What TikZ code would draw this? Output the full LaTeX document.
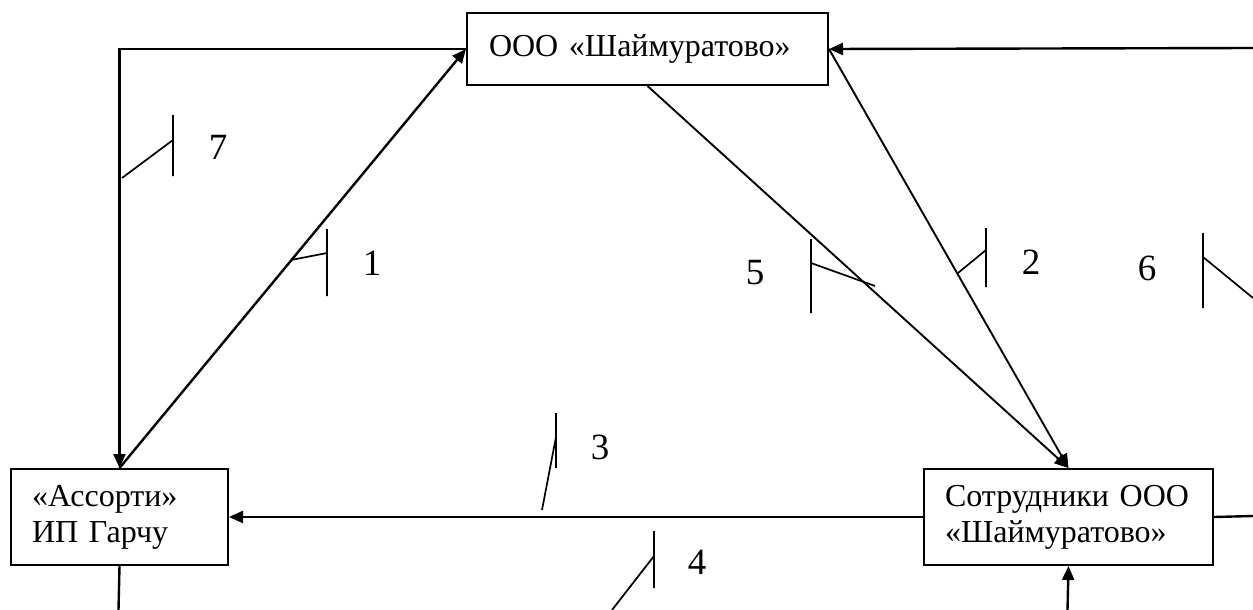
\documentclass[tikz,border=0pt]{standalone}
\usepackage{fontspec}
\setmainfont{Liberation Serif}
\usetikzlibrary{arrows.meta}
\begin{document}
\begin{tikzpicture}[x=1pt,y=-1pt,
  box/.style={draw,line width=2pt,inner sep=0pt,align=left,font=\fontsize{32}{36}\selectfont},
  arr/.style={line width=2.4pt,-{Triangle[length=14pt,width=12pt]}},
  conn/.style={line width=2.4pt},
  thin/.style={line width=1.9pt,-{Triangle[length=14pt,width=12pt]}},
  tick/.style={line width=1.7pt},
  num/.style={font=\fontsize{37}{40}\selectfont,inner sep=0pt}]
\useasboundingbox (0,0) rectangle (1253,610);
\node[box,minimum width=361pt,minimum height=72pt,anchor=north west,text width=317pt] (top) at (466,12) {ООО «Шаймуратово»};
\node[box,minimum width=217pt,minimum height=96pt,anchor=north west,text width=175pt] (left) at (10,468) {«Ассорти»\\ИП Гарчу};
\node[box,minimum width=289pt,minimum height=96pt,anchor=north west,text width=247pt] (right) at (923,468) {Сотрудники ООО\\«Шаймуратово»};
\coordinate (redge) at (1253,48);
\coordinate (redge2) at (1253,516);
\coordinate (lbot) at (118.5,610);
\coordinate (rbot) at (1067.5,610);
% connectors
\draw[arr] (top.west) -| (left.north);
\draw[arr] (left.north) -- (top.west);
\draw[arr] (redge) -- (top.east);
\draw[thin] (top.east) -- (right.north);
\draw[thin] (top.south) -- (right.north);
\draw[arr] (right.west) -- (left.east);
\draw[conn] (right.east) -- (redge2);
\draw[conn] (left.south) -- (lbot);
\draw[arr] (rbot) -- (right.south);
% ticks and labels
\draw[tick] (173,115) -- (173,176) (122,178) -- (173,140);
\node[num] (n7) at (218,147) {7};
\draw[tick] (327,229) -- (327,296) (291,260) -- (327,253);
\node[num] (n1) at (372,263) {1};
\draw[tick] (811,239) -- (811,313) (811,263) -- (875,286);
\node[num] (n5) at (755,273) {5};
\draw[tick] (986,228) -- (986,287) (958,273) -- (986,250);
\node[num] (n2) at (1031,262) {2};
\draw[tick] (1203,233) -- (1203,308) (1203,257) -- (1253,298);
\node[num] (n6) at (1147,268) {6};
\draw[tick] (556,413) -- (556,468) (542,510) -- (556,437);
\node[num] (n3) at (600,447) {3};
\draw[tick] (654,531) -- (654,588) (612,610) -- (654,556);
\node[num] (n4) at (697,562) {4};
\end{tikzpicture}
\end{document}
